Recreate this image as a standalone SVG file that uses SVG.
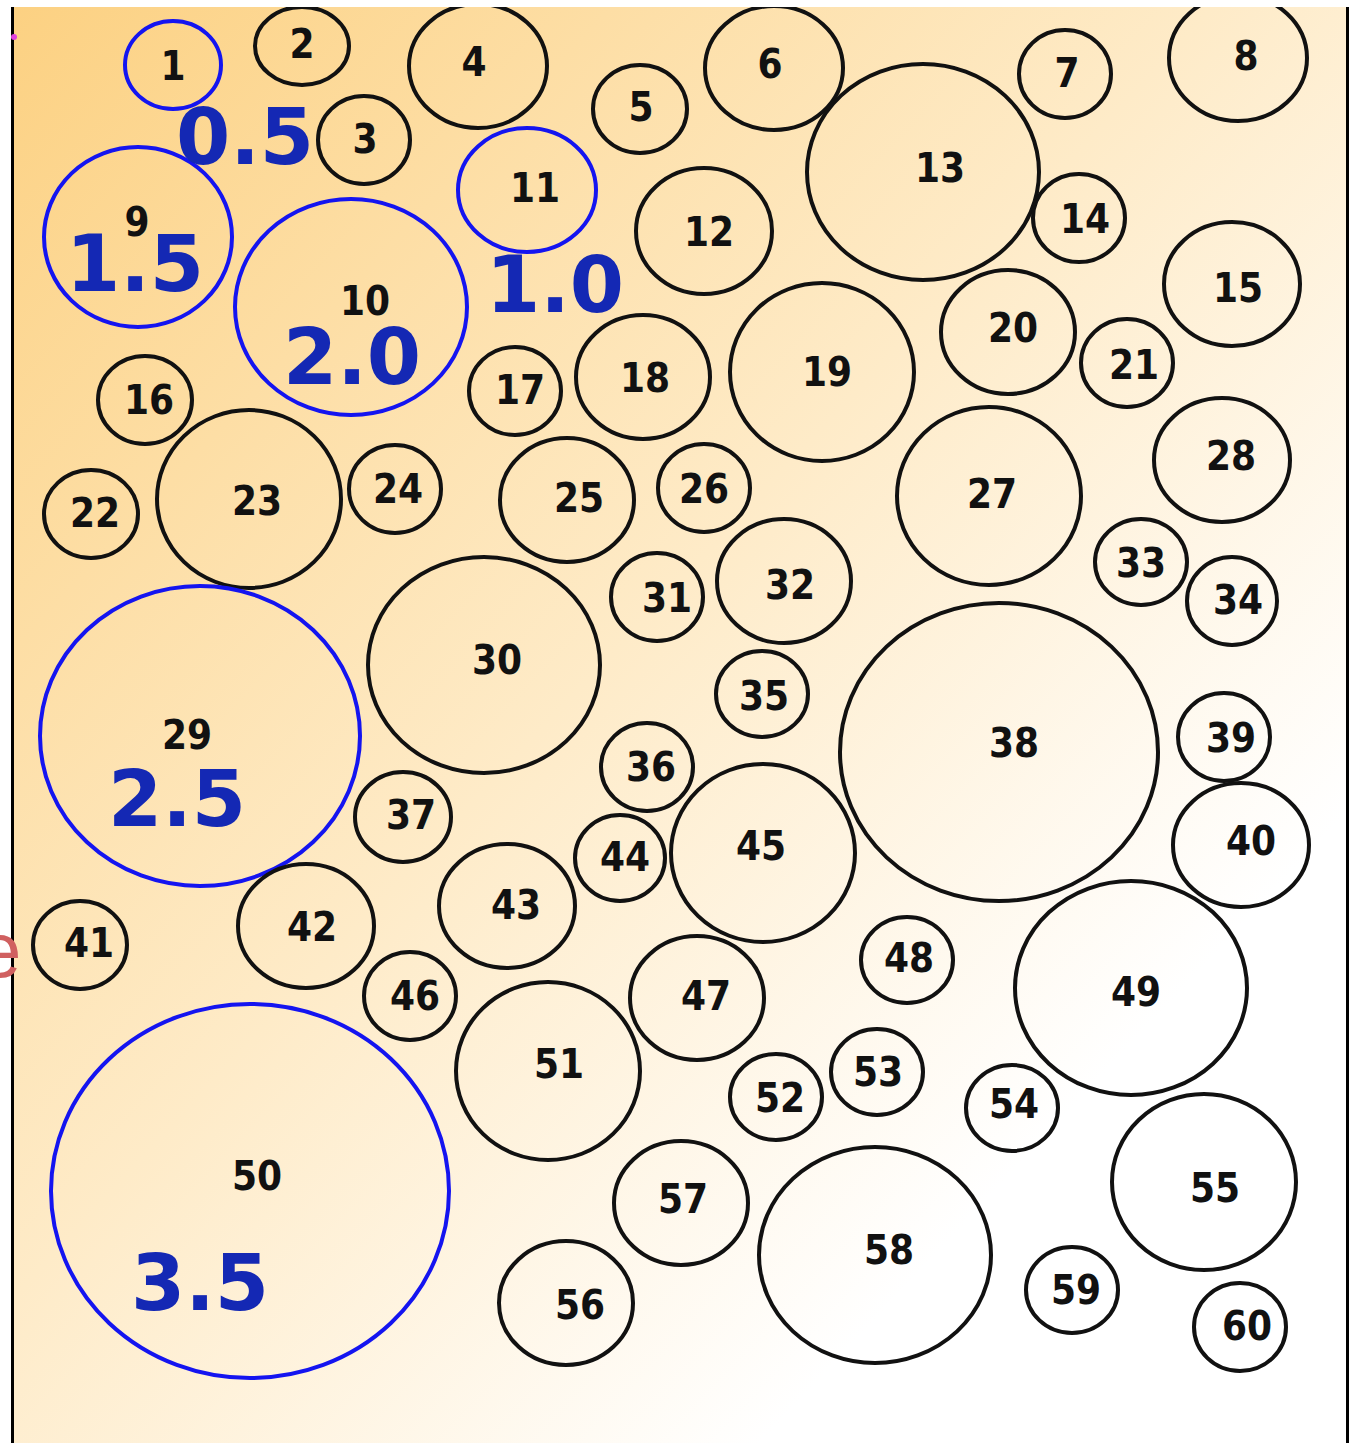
<svg xmlns="http://www.w3.org/2000/svg" width="1353" height="1443" viewBox="0 0 1353 1443">
<style>
.c{fill:none;stroke:#111;stroke-width:4}
.b{fill:none;stroke:#1414f0;stroke-width:4}
.t{font-family:"DejaVu Sans Condensed","DejaVu Sans",sans-serif;font-weight:bold;font-size:40px;fill:#111;text-anchor:middle}
.v{font-family:"DejaVu Sans",sans-serif;font-weight:bold;font-size:78px;fill:#1428b4;text-anchor:middle}
</style>
<defs>
<linearGradient id="bg" x1="0" y1="0" x2="1" y2="1">
<stop offset="0" stop-color="#fcd182"/>
<stop offset="0.45" stop-color="#feebc8"/>
<stop offset="0.78" stop-color="#ffffff"/>
</linearGradient>
<clipPath id="panel"><rect x="12" y="7" width="1336" height="1436"/></clipPath>
</defs>
<rect x="0" y="0" width="1353" height="1443" fill="#fff"/>
<rect x="12" y="7" width="1336" height="1436" fill="url(#bg)"/>
<line x1="12.5" y1="7" x2="12.5" y2="1443" stroke="#000" stroke-width="3"/>
<line x1="1347.5" y1="7" x2="1347.5" y2="1443" stroke="#000" stroke-width="3"/>
<g id="circles" clip-path="url(#panel)">
<g id="n1"><ellipse class="b" cx="173" cy="65" rx="48" ry="44"/><text class="t" x="173" y="80">1</text></g>
<g id="n2"><ellipse class="c" cx="302" cy="46" rx="47" ry="39"/><text class="t" x="302" y="58">2</text></g>
<g id="n3"><ellipse class="c" cx="364" cy="140" rx="46" ry="44"/><text class="t" x="365" y="153">3</text></g>
<g id="n4"><ellipse class="c" cx="478" cy="66" rx="69" ry="62"/><text class="t" x="474" y="76">4</text></g>
<g id="n5"><ellipse class="c" cx="640" cy="109" rx="47" ry="44"/><text class="t" x="641" y="121">5</text></g>
<g id="n6"><ellipse class="c" cx="774" cy="68" rx="69" ry="62"/><text class="t" x="770" y="78">6</text></g>
<g id="n7"><ellipse class="c" cx="1065" cy="74" rx="46" ry="44"/><text class="t" x="1067" y="87">7</text></g>
<g id="n8"><ellipse class="c" cx="1238" cy="58" rx="69" ry="63"/><text class="t" x="1246" y="70">8</text></g>
<g id="n9"><ellipse class="b" cx="138" cy="237" rx="94" ry="90"/><text class="t" x="137" y="236">9</text><text class="v" x="135" y="291">1.5</text></g>
<g id="n10"><ellipse class="b" cx="351" cy="307" rx="116" ry="108"/><text class="t" x="365" y="315">10</text><text class="v" x="352" y="384">2.0</text></g>
<g id="n11"><ellipse class="b" cx="527" cy="190" rx="69" ry="62"/><text class="t" x="535" y="202">11</text><text class="v" x="555" y="312">1.0</text></g>
<text class="v" x="245" y="164">0.5</text>
<g id="n12"><ellipse class="c" cx="704" cy="231" rx="68" ry="63"/><text class="t" x="709" y="246">12</text></g>
<g id="n13"><ellipse class="c" cx="923" cy="172" rx="116" ry="108"/><text class="t" x="940" y="182">13</text></g>
<g id="n14"><ellipse class="c" cx="1079" cy="218" rx="46" ry="44"/><text class="t" x="1085" y="233">14</text></g>
<g id="n15"><ellipse class="c" cx="1232" cy="284" rx="68" ry="62"/><text class="t" x="1238" y="302">15</text></g>
<g id="n16"><ellipse class="c" cx="145" cy="400" rx="47" ry="44"/><text class="t" x="149" y="414">16</text></g>
<g id="n17"><ellipse class="c" cx="515" cy="391" rx="46" ry="44"/><text class="t" x="520" y="404">17</text></g>
<g id="n18"><ellipse class="c" cx="643" cy="377" rx="67" ry="62"/><text class="t" x="645" y="392">18</text></g>
<g id="n19"><ellipse class="c" cx="822" cy="372" rx="92" ry="89"/><text class="t" x="827" y="386">19</text></g>
<g id="n20"><ellipse class="c" cx="1008" cy="332" rx="67" ry="62"/><text class="t" x="1013" y="342">20</text></g>
<g id="n21"><ellipse class="c" cx="1127" cy="363" rx="46" ry="44"/><text class="t" x="1134" y="379">21</text></g>
<g id="n22"><ellipse class="c" cx="91" cy="514" rx="47" ry="44"/><text class="t" x="95" y="527">22</text></g>
<g id="n23"><ellipse class="c" cx="249" cy="499" rx="92" ry="89"/><text class="t" x="257" y="515">23</text></g>
<g id="n24"><ellipse class="c" cx="395" cy="489" rx="46" ry="44"/><text class="t" x="398" y="503">24</text></g>
<g id="n25"><ellipse class="c" cx="567" cy="500" rx="67" ry="62"/><text class="t" x="579" y="512">25</text></g>
<g id="n26"><ellipse class="c" cx="704" cy="488" rx="46" ry="44"/><text class="t" x="704" y="503">26</text></g>
<g id="n27"><ellipse class="c" cx="989" cy="496" rx="92" ry="89"/><text class="t" x="992" y="508">27</text></g>
<g id="n28"><ellipse class="c" cx="1222" cy="460" rx="68" ry="62"/><text class="t" x="1231" y="470">28</text></g>
<g id="n29"><ellipse class="b" cx="200" cy="736" rx="160" ry="150"/><text class="t" x="187" y="749">29</text><text class="v" x="177" y="826">2.5</text></g>
<g id="n30"><ellipse class="c" cx="484" cy="665" rx="116" ry="108"/><text class="t" x="497" y="674">30</text></g>
<g id="n31"><ellipse class="c" cx="657" cy="597" rx="46" ry="44"/><text class="t" x="667" y="612">31</text></g>
<g id="n32"><ellipse class="c" cx="784" cy="581" rx="67" ry="62"/><text class="t" x="790" y="599">32</text></g>
<g id="n33"><ellipse class="c" cx="1141" cy="562" rx="46" ry="43"/><text class="t" x="1141" y="577">33</text></g>
<g id="n34"><ellipse class="c" cx="1232" cy="601" rx="45" ry="44"/><text class="t" x="1238" y="614">34</text></g>
<g id="n35"><ellipse class="c" cx="762" cy="694" rx="46" ry="43"/><text class="t" x="764" y="710">35</text></g>
<g id="n36"><ellipse class="c" cx="647" cy="767" rx="46" ry="44"/><text class="t" x="651" y="781">36</text></g>
<g id="n37"><ellipse class="c" cx="403" cy="817" rx="48" ry="45"/><text class="t" x="411" y="829">37</text></g>
<g id="n38"><ellipse class="c" cx="999" cy="752" rx="159" ry="149"/><text class="t" x="1014" y="757">38</text></g>
<g id="n39"><ellipse class="c" cx="1224" cy="737" rx="46" ry="44"/><text class="t" x="1231" y="752">39</text></g>
<g id="n40"><ellipse class="c" cx="1241" cy="845" rx="68" ry="62"/><text class="t" x="1251" y="855">40</text></g>
<g id="n41"><ellipse class="c" cx="80" cy="945" rx="47" ry="44"/><text class="t" x="89" y="957">41</text></g>
<g id="n42"><ellipse class="c" cx="306" cy="926" rx="68" ry="62"/><text class="t" x="312" y="941">42</text></g>
<g id="n43"><ellipse class="c" cx="507" cy="906" rx="68" ry="62"/><text class="t" x="516" y="919">43</text></g>
<g id="n44"><ellipse class="c" cx="620" cy="858" rx="45" ry="43"/><text class="t" x="625" y="871">44</text></g>
<g id="n45"><ellipse class="c" cx="763" cy="853" rx="92" ry="89"/><text class="t" x="761" y="860">45</text></g>
<g id="n46"><ellipse class="c" cx="410" cy="996" rx="46" ry="44"/><text class="t" x="415" y="1010">46</text></g>
<g id="n47"><ellipse class="c" cx="697" cy="998" rx="67" ry="62"/><text class="t" x="706" y="1010">47</text></g>
<g id="n48"><ellipse class="c" cx="907" cy="960" rx="46" ry="43"/><text class="t" x="909" y="972">48</text></g>
<g id="n49"><ellipse class="c" cx="1131" cy="988" rx="116" ry="107"/><text class="t" x="1136" y="1006">49</text></g>
<g id="n50"><ellipse class="b" cx="250" cy="1191" rx="199" ry="187"/><text class="t" x="257" y="1190">50</text><text class="v" x="200" y="1310">3.5</text></g>
<g id="n51"><ellipse class="c" cx="548" cy="1071" rx="92" ry="89"/><text class="t" x="559" y="1078">51</text></g>
<g id="n52"><ellipse class="c" cx="776" cy="1097" rx="46" ry="43"/><text class="t" x="780" y="1112">52</text></g>
<g id="n53"><ellipse class="c" cx="877" cy="1072" rx="46" ry="43"/><text class="t" x="878" y="1086">53</text></g>
<g id="n54"><ellipse class="c" cx="1012" cy="1108" rx="46" ry="43"/><text class="t" x="1014" y="1118">54</text></g>
<g id="n55"><ellipse class="c" cx="1204" cy="1182" rx="92" ry="88"/><text class="t" x="1215" y="1202">55</text></g>
<g id="n56"><ellipse class="c" cx="566" cy="1303" rx="67" ry="62"/><text class="t" x="580" y="1319">56</text></g>
<g id="n57"><ellipse class="c" cx="681" cy="1203" rx="67" ry="62"/><text class="t" x="683" y="1213">57</text></g>
<g id="n58"><ellipse class="c" cx="875" cy="1255" rx="116" ry="108"/><text class="t" x="889" y="1264">58</text></g>
<g id="n59"><ellipse class="c" cx="1072" cy="1290" rx="46" ry="43"/><text class="t" x="1076" y="1304">59</text></g>
<g id="n60"><ellipse class="c" cx="1240" cy="1327" rx="46" ry="44"/><text class="t" x="1247" y="1340">60</text></g>
</g>
<g id="connectors"/>
<text x="-22" y="977" font-family="Liberation Sans,Arial,sans-serif" font-size="78" fill="#d06060">e</text>
<circle cx="14" cy="37" r="3" fill="#e040e0"/>
</svg>
